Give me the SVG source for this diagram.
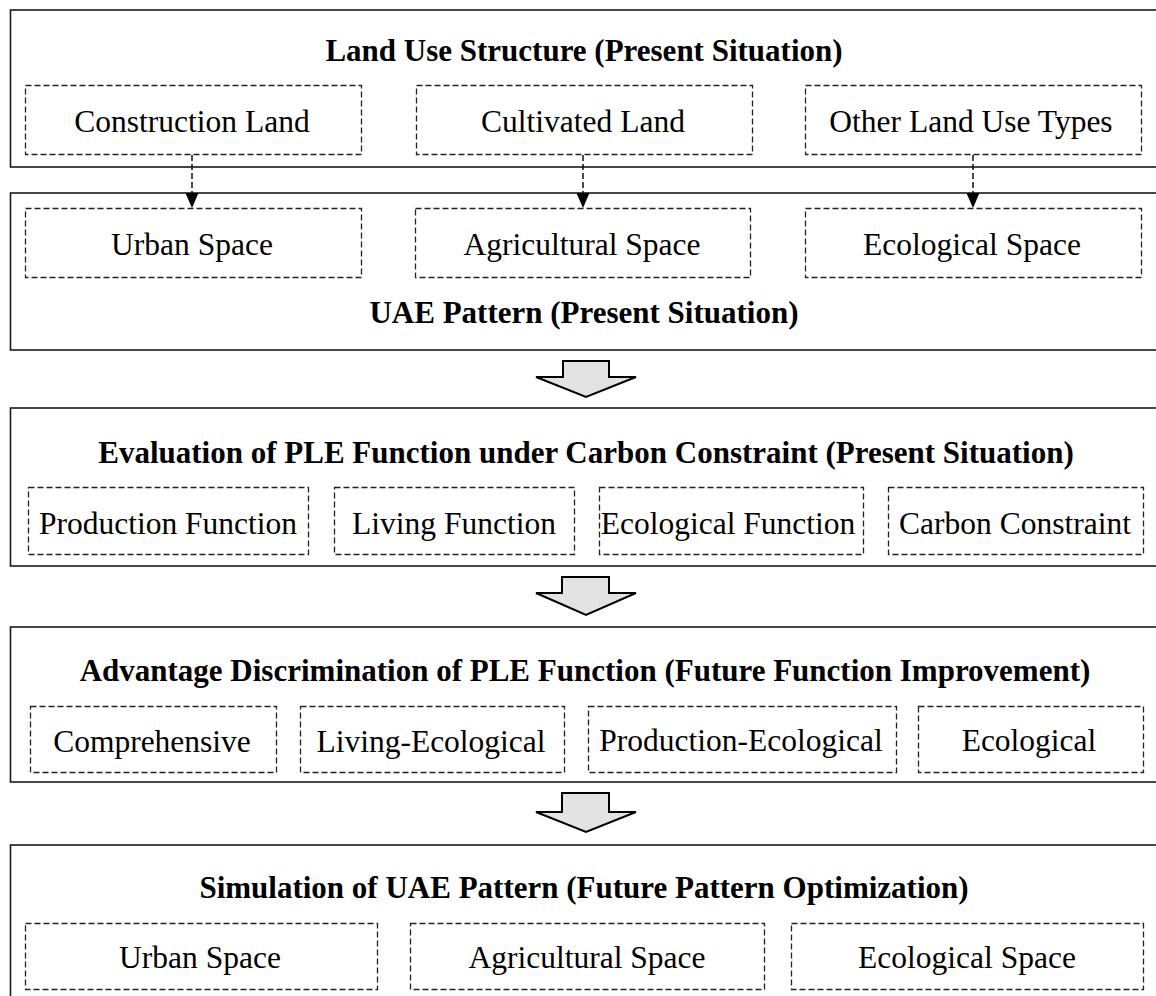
<svg xmlns="http://www.w3.org/2000/svg" width="1156" height="996" viewBox="0 0 1156 996">
<style>
.outer{fill:#fff;stroke:#1a1a1a;stroke-width:1.6}
.sub{fill:none;stroke:#222;stroke-width:1.3;stroke-dasharray:6,3}
.title{font-family:"Liberation Serif",serif;font-weight:bold;font-size:31px;text-anchor:middle;fill:#000}
.lbl{font-family:"Liberation Serif",serif;font-size:31.5px;text-anchor:middle;fill:#000}
.conn{stroke:#111;stroke-width:1.5;stroke-dasharray:6,3;fill:none}
.block{fill:#e3e3e3;stroke:#000;stroke-width:2;stroke-linejoin:miter}
</style>
<defs>
<marker id="ah" viewBox="0 0 15 13" refX="15" refY="6.5" markerWidth="15" markerHeight="13" markerUnits="userSpaceOnUse" orient="auto">
<path d="M0,0 L15,6.5 L0,13 Z" fill="#000"/>
</marker>
</defs>
<rect width="1156" height="996" fill="#fff"/>

<g id="panel1">
<rect class="outer" x="10.5" y="10" width="1160" height="157"/>
<text class="title" x="584" y="61">Land Use Structure (Present Situation)</text>
</g>
<g id="construction-land"><rect class="sub" x="25.5" y="85.5" width="336" height="69"/><text class="lbl" x="192" y="132">Construction Land</text></g>
<g id="cultivated-land"><rect class="sub" x="416.5" y="85.5" width="336" height="69"/><text class="lbl" x="583" y="132">Cultivated Land</text></g>
<g id="other-land"><rect class="sub" x="805.5" y="85.5" width="336" height="69"/><text class="lbl" x="971" y="132">Other Land Use Types</text></g>

<g id="panel2">
<rect class="outer" x="10.5" y="193" width="1160" height="157"/>
<text class="title" x="584" y="323">UAE Pattern (Present Situation)</text>
</g>
<g id="urban-space"><rect class="sub" x="25.5" y="208.5" width="336" height="69"/><text class="lbl" x="192" y="255">Urban Space</text></g>
<g id="agricultural-space"><rect class="sub" x="415.5" y="208.5" width="335" height="69"/><text class="lbl" x="582" y="255">Agricultural Space</text></g>
<g id="ecological-space"><rect class="sub" x="805.5" y="208.5" width="336" height="69"/><text class="lbl" x="972" y="255">Ecological Space</text></g>

<g id="panel3">
<rect class="outer" x="10.5" y="408" width="1160" height="158"/>
<text class="title" x="586" y="463">Evaluation of PLE Function under Carbon Constraint (Present Situation)</text>
</g>
<g id="production-function"><rect class="sub" x="28.5" y="487.5" width="280" height="67"/><text class="lbl" x="168" y="534">Production Function</text></g>
<g id="living-function"><rect class="sub" x="334.5" y="487.5" width="240" height="67"/><text class="lbl" x="454" y="534">Living Function</text></g>
<g id="ecological-function"><rect class="sub" x="599.5" y="487.5" width="264" height="67"/><text class="lbl" x="728" y="534">Ecological Function</text></g>
<g id="carbon-constraint"><rect class="sub" x="888.5" y="487.5" width="255" height="67"/><text class="lbl" x="1015" y="534">Carbon Constraint</text></g>

<g id="panel4">
<rect class="outer" x="10.5" y="627" width="1160" height="155"/>
<text class="title" x="585" y="681">Advantage Discrimination of PLE Function (Future Function Improvement)</text>
</g>
<g id="comprehensive"><rect class="sub" x="30.5" y="706.5" width="246" height="66"/><text class="lbl" x="152" y="752">Comprehensive</text></g>
<g id="living-ecological"><rect class="sub" x="300.5" y="706.5" width="264" height="66"/><text class="lbl" x="431" y="752">Living-Ecological</text></g>
<g id="production-ecological"><rect class="sub" x="588.5" y="706.5" width="308" height="66"/><text class="lbl" x="741" y="751">Production-Ecological</text></g>
<g id="ecological"><rect class="sub" x="918.5" y="706.5" width="225" height="66"/><text class="lbl" x="1029" y="751">Ecological</text></g>

<g id="panel5">
<rect class="outer" x="10.5" y="845" width="1160" height="160"/>
<text class="title" x="584" y="898">Simulation of UAE Pattern (Future Pattern Optimization)</text>
</g>
<g id="urban-space-future"><rect class="sub" x="25.5" y="923.5" width="352" height="66"/><text class="lbl" x="200" y="968">Urban Space</text></g>
<g id="agricultural-space-future"><rect class="sub" x="410.5" y="923.5" width="354" height="66"/><text class="lbl" x="587" y="968">Agricultural Space</text></g>
<g id="ecological-space-future"><rect class="sub" x="791.5" y="923.5" width="352" height="66"/><text class="lbl" x="967" y="968">Ecological Space</text></g>

<g id="connectors">
<path class="conn" d="M192,155 V208" marker-end="url(#ah)"/>
<path class="conn" d="M583,155 V208" marker-end="url(#ah)"/>
<path class="conn" d="M973,155 V208" marker-end="url(#ah)"/>
<path class="block" d="M563,361 H609 V377 H636 L586,397 L536,377 H563 Z"/>
<path class="block" d="M562,577 H609 V593 H636 L586,615 L536,593 H562 Z"/>
<path class="block" d="M562,793 H609 V812 H636 L586,832 L536,812 H562 Z"/>
</g>
</svg>
